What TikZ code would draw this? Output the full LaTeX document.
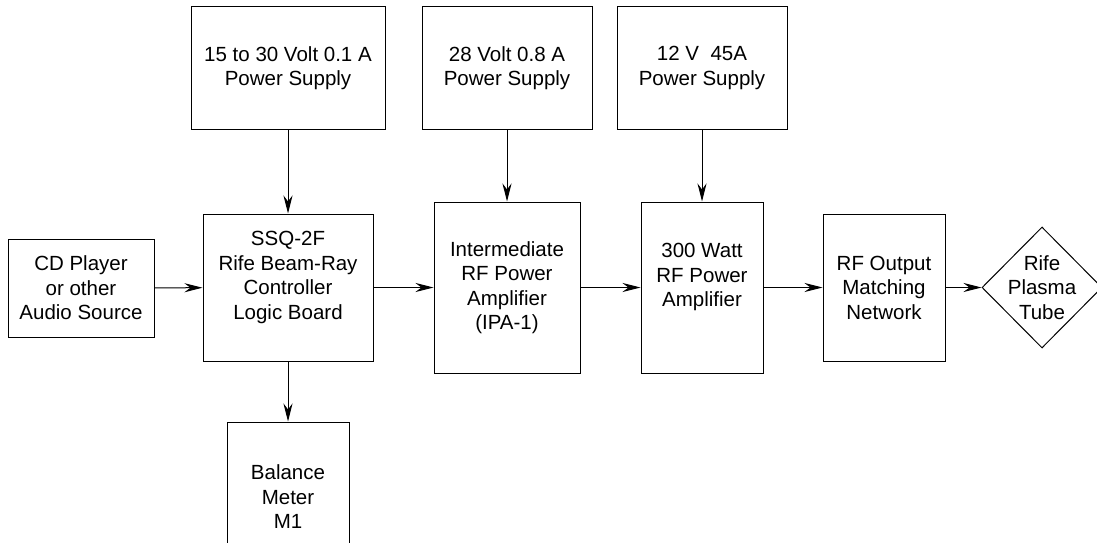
\documentclass[tikz,border=0pt]{standalone}
\usepackage{fontspec}
\setmainfont{Liberation Sans}
\usetikzlibrary{arrows.meta,shapes.geometric}
\begin{document}
\begin{tikzpicture}[x=1pt,y=-1pt,line width=1pt,>={Stealth[length=18pt,width=9pt,inset=6pt]},
        box/.style={draw,align=center,inner sep=0pt,font=\fontsize{20.5}{24.5}\selectfont}]
        \useasboundingbox (0,0) rectangle (1097,543);
        %電源
        \node[box,minimum width=194pt,minimum height=122pt] (supplyA) at (288,68) {15 to 30 Volt 0.1 A\\Power Supply};
        \node[box,minimum width=170pt,minimum height=122pt] (supplyB) at (507,68) {28 Volt 0.8 A\\Power Supply};
        \node[box,minimum width=170pt,minimum height=122pt] (supplyC) at (702,68) {12 V\ \ 45A\\Power Supply};
        %信号の流れ
        \node[box,minimum width=146pt,minimum height=98pt] (cd) at (81,288) {CD Player\\or other\\Audio Source};
        \node[box,minimum width=170pt,minimum height=147pt] (ssq) at (288,287.5) {SSQ-2F\\Rife Beam-Ray\\Controller\\Logic Board\\~};
        \node[box,minimum width=146pt,minimum height=171pt] (ipa) at (507,287.5) {Intermediate\\RF Power\\Amplifier\\(IPA-1)};
        \node[box,minimum width=122pt,minimum height=171pt] (amp) at (702,287.5) {300 Watt\\RF Power\\Amplifier\\~};
        \node[box,minimum width=122pt,minimum height=147pt] (match) at (884,287.5) {RF Output\\Matching\\Network};
        \node[box,diamond,minimum width=120pt,minimum height=121pt,
            label={[align=center,font=\fontsize{20.5}{24.5}\selectfont]center:Rife\\Plasma\\Tube}] (tube) at (1042,287.5) {};
        \node[box,minimum width=122pt,minimum height=150pt] (meter) at (288,497) {Balance\\Meter\\M1};
        %矢印
        \draw[->] (supplyA) -- (ssq);
        \draw[->] (supplyB) -- (ipa);
        \draw[->] (supplyC) -- (amp);
        \draw[->] (cd) -- (ssq);
        \draw[->] (ssq) -- (ipa);
        \draw[->] (ipa) -- (amp);
        \draw[->] (amp) -- (match);
        \draw[->] (match) -- (tube);
        \draw[->] (ssq) -- (meter);
    \end{tikzpicture}
\end{document}
